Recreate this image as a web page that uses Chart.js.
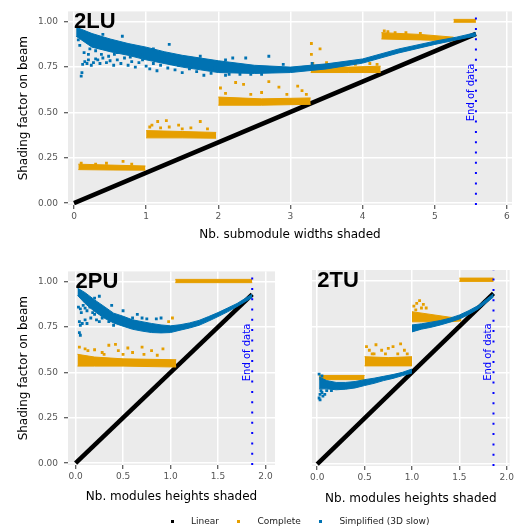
<!DOCTYPE html>
<html>
<head>
<meta charset="utf-8">
<script src="https://cdn.jsdelivr.net/npm/chart.js@4.4.0/dist/chart.umd.min.js"></script>
<style>
  html, body { margin: 0; padding: 0; background: #fff; overflow: hidden; width: 516px; height: 530px; }
  canvas { position: absolute; }
</style>
</head>
<body>
<canvas id="g2LU" width="516" height="242" style="left:0;top:0"></canvas>
<canvas id="g2PU" width="280" height="244" style="left:0;top:260px"></canvas>
<canvas id="g2TU" width="439" height="276" style="left:77px;top:260px"></canvas>
<script>
// MARK: values

var panelNames = ['2LU', '2PU', '2TU'];
var seriesNames = ['Linear', 'Complete', 'Simplified (3D slow)'];
var seriesColors = ['#000000', '#E69F00', '#0072B2'];
var yTitle = 'Shading factor on beam';
var xTitles = ['Nb. submodule widths shaded', 'Nb. modules heights shaded', 'Nb. modules heights shaded'];
var endLabel = 'End of data';
var endOfData = [5.57, 1.86, 1.86];

var yTicks = [0, 0.25, 0.5, 0.75, 1];
var yTickLabels = ['0.00', '0.25', '0.50', '0.75', '1.00'];
var xTicksTop = [0, 1, 2, 3, 4, 5, 6];
var xTickLabelsTop = ['0', '1', '2', '3', '4', '5', '6'];
var xTicksBottom = [0, 0.5, 1, 1.5, 2];
var xTickLabelsBottom = ['0.0', '0.5', '1.0', '1.5', '2.0'];

// 2LU
var linear2LU = [[0, 0], [5.57, 0.933]];
// bands are [x, low, high]
var complete2LU = [
  [[0.06, 0.185, 0.215], [0.5, 0.183, 0.21], [0.99, 0.182, 0.205]],
  [[1.0, 0.36, 0.4], [1.5, 0.36, 0.395], [1.97, 0.358, 0.39]],
  [[2.0, 0.54, 0.585], [2.6, 0.54, 0.575], [3.28, 0.545, 0.58]],
  [[3.28, 0.72, 0.76], [3.8, 0.72, 0.75], [4.25, 0.72, 0.755]],
  [[4.26, 0.905, 0.94], [4.8, 0.9, 0.93], [5.26, 0.895, 0.915]],
  [[5.26, 0.997, 1.013], [5.57, 0.997, 1.013]]
];
var completePts2LU = [
  [0.1, 0.22], [0.3, 0.215], [0.45, 0.22], [0.68, 0.23], [0.8, 0.215],
  [1.05, 0.42], [1.08, 0.43], [1.16, 0.45], [1.2, 0.415], [1.28, 0.455], [1.32, 0.42], [1.45, 0.43],
  [1.5, 0.41], [1.62, 0.415], [1.75, 0.45], [1.85, 0.41],
  [2.03, 0.635], [2.1, 0.605], [2.24, 0.665], [2.35, 0.655], [2.45, 0.6], [2.6, 0.61], [2.7, 0.67],
  [2.84, 0.64], [2.95, 0.6], [3.1, 0.645], [3.16, 0.62], [3.22, 0.6],
  [3.29, 0.88], [3.29, 0.82], [3.41, 0.85], [3.31, 0.77], [3.5, 0.775], [3.7, 0.77], [3.9, 0.765],
  [4.1, 0.77], [4.2, 0.765],
  [4.3, 0.95], [4.35, 0.945], [4.45, 0.94], [4.6, 0.94], [4.8, 0.935]
];
var simplified2LU = [
  [[0.03, 0.92, 0.97], [0.25, 0.86, 0.935], [0.5, 0.835, 0.905], [0.75, 0.815, 0.88], [1.0, 0.79, 0.86],
   [1.25, 0.77, 0.835], [1.5, 0.75, 0.815], [1.75, 0.735, 0.8], [2.0, 0.72, 0.785], [2.5, 0.715, 0.76],
   [3.0, 0.72, 0.75], [3.5, 0.74, 0.768], [4.0, 0.772, 0.795], [4.5, 0.828, 0.85], [5.0, 0.875, 0.893],
   [5.3, 0.9, 0.915], [5.57, 0.922, 0.94]]
];
var simplifiedPts2LU = [
  [0.1, 0.7], [0.11, 0.72], [0.12, 0.765], [0.15, 0.78], [0.18, 0.77], [0.2, 0.79], [0.24, 0.76],
  [0.27, 0.775], [0.3, 0.795], [0.33, 0.79], [0.36, 0.77], [0.4, 0.8], [0.45, 0.775], [0.5, 0.785],
  [0.55, 0.76], [0.6, 0.79], [0.65, 0.77], [0.7, 0.8], [0.75, 0.76], [0.8, 0.78], [0.85, 0.75],
  [0.9, 0.775], [0.95, 0.79], [1.0, 0.755], [1.05, 0.74], [1.1, 0.77], [1.15, 0.73], [1.2, 0.76],
  [1.3, 0.745], [1.4, 0.735], [1.5, 0.72], [1.6, 0.74], [1.7, 0.725], [1.8, 0.705], [1.9, 0.715],
  [2.1, 0.705], [2.3, 0.71],
  [0.4, 0.93], [0.67, 0.92], [1.32, 0.875], [1.1, 0.85], [0.85, 0.86], [1.75, 0.81], [2.38, 0.8],
  [2.7, 0.81], [2.2, 0.8], [2.9, 0.765], [3.3, 0.77], [0.2, 0.82], [0.6, 0.83], [0.56, 0.82],
  [0.95, 0.82], [1.25, 0.8], [0.3, 0.84],
  [0.06, 0.9], [0.08, 0.87], [0.14, 0.83], [0.22, 0.85], [0.38, 0.82], [0.48, 0.81], [0.7, 0.83],
  [0.78, 0.805], [1.02, 0.8], [1.18, 0.79], [1.35, 0.77], [1.45, 0.76], [1.55, 0.76], [1.65, 0.77],
  [1.85, 0.74], [1.95, 0.745], [2.05, 0.73], [2.15, 0.71], [2.45, 0.71], [2.6, 0.71], [2.1, 0.79]
];

// 2PU
var linear2PU = [[0, 0], [1.86, 0.93]];
var complete2PU = [
  [[0.02, 0.535, 0.6], [0.2, 0.535, 0.585], [0.5, 0.535, 0.575], [1.06, 0.53, 0.57]],
  [[1.05, 0.995, 1.013], [1.86, 0.995, 1.013]]
];
var completePts2PU = [
  [0.04, 0.64], [0.1, 0.63], [0.13, 0.62], [0.2, 0.625], [0.28, 0.61], [0.35, 0.65], [0.42, 0.655],
  [0.45, 0.62], [0.55, 0.635], [0.6, 0.61], [0.7, 0.64], [0.72, 0.6], [0.8, 0.62], [0.86, 0.595],
  [0.92, 0.63], [0.98, 0.78], [1.02, 0.8], [0.3, 0.6], [0.5, 0.6]
];
var simplified2PU = [
  [[0.02, 0.925, 0.965], [0.1, 0.88, 0.94], [0.2, 0.836, 0.9], [0.3, 0.8, 0.864], [0.4, 0.773, 0.827],
   [0.5, 0.755, 0.81], [0.6, 0.738, 0.79], [0.7, 0.728, 0.78], [0.8, 0.72, 0.77], [0.9, 0.718, 0.762],
   [1.0, 0.72, 0.757], [1.1, 0.733, 0.763], [1.2, 0.745, 0.773], [1.3, 0.76, 0.787], [1.4, 0.783, 0.808],
   [1.5, 0.808, 0.83], [1.6, 0.834, 0.855], [1.7, 0.863, 0.88], [1.86, 0.913, 0.932]]
];
var simplifiedPts2PU = [
  [0.03, 0.86], [0.05, 0.85], [0.06, 0.83], [0.08, 0.87], [0.1, 0.855], [0.12, 0.84], [0.15, 0.86],
  [0.18, 0.83], [0.2, 0.82], [0.04, 0.78], [0.05, 0.76], [0.07, 0.77], [0.1, 0.79], [0.12, 0.77],
  [0.16, 0.8], [0.22, 0.79], [0.25, 0.78], [0.28, 0.8], [0.04, 0.72], [0.05, 0.705], [0.2, 0.91],
  [0.25, 0.92], [0.35, 0.78], [0.4, 0.76], [0.45, 0.8], [0.55, 0.78], [0.6, 0.8], [0.7, 0.8],
  [0.75, 0.795], [0.85, 0.795], [0.9, 0.8], [0.38, 0.87], [0.5, 0.84], [0.65, 0.82]
];

// 2TU
var linear2TU = [[0, 0], [1.86, 0.93]];
var complete2TU = [
  [[0.02, 0.46, 0.483], [0.5, 0.46, 0.483]],
  [[0.5, 0.535, 0.585], [0.75, 0.535, 0.58], [1.0, 0.535, 0.585]],
  [[1.0, 0.775, 0.83], [1.2, 0.775, 0.815], [1.4, 0.775, 0.8], [1.52, 0.78, 0.795]],
  [[1.5, 0.995, 1.013], [1.86, 0.995, 1.013]]
];
var completePts2TU = [
  [0.52, 0.64], [0.55, 0.62], [0.6, 0.6], [0.62, 0.65], [0.68, 0.62], [0.72, 0.6], [0.75, 0.63],
  [0.8, 0.64], [0.85, 0.6], [0.88, 0.655], [0.92, 0.62], [0.95, 0.6], [0.58, 0.6],
  [1.02, 0.86], [1.05, 0.875], [1.08, 0.89], [1.1, 0.85], [1.12, 0.87], [1.15, 0.85], [1.04, 0.84]
];
var simplified2TU = [
  [[0.02, 0.41, 0.475], [0.1, 0.41, 0.455], [0.2, 0.405, 0.445], [0.3, 0.408, 0.445], [0.4, 0.415, 0.45],
   [0.5, 0.428, 0.46], [0.6, 0.44, 0.468], [0.7, 0.455, 0.478], [0.8, 0.467, 0.488], [0.9, 0.482, 0.5],
   [1.0, 0.496, 0.518]],
  [[1.0, 0.72, 0.758], [1.1, 0.735, 0.764], [1.2, 0.745, 0.773], [1.3, 0.758, 0.782], [1.4, 0.773, 0.795],
   [1.5, 0.79, 0.812], [1.6, 0.815, 0.836], [1.7, 0.845, 0.864], [1.86, 0.91, 0.928]]
];
var simplifiedPts2TU = [
  [0.02, 0.36], [0.03, 0.38], [0.04, 0.4], [0.03, 0.35], [0.05, 0.39], [0.08, 0.38], [0.1, 0.4],
  [0.06, 0.37], [0.15, 0.4], [0.12, 0.42], [0.02, 0.49], [0.05, 0.48], [0.25, 0.42]
];

// MARK: helpers

Chart.defaults.font.family = '"DejaVu Sans", sans-serif';

function xy(p) { return { x: p[0], y: p[1] }; }

function bandSets(bands, color, order) {
  var out = [];
  bands.forEach(function (b) {
    out.push({ data: b.map(function (p) { return { x: p[0], y: p[1] }; }), showLine: true,
      borderColor: color, borderWidth: 1, pointRadius: 0, fill: false, order: order });
    out.push({ data: b.map(function (p) { return { x: p[0], y: p[2] }; }), showLine: true,
      borderColor: color, borderWidth: 1, pointRadius: 0, fill: '-1', backgroundColor: color, order: order });
  });
  return out;
}

function pointSet(pts, color, order) {
  return { data: pts.map(xy), showLine: false, pointStyle: 'rect', pointRadius: 2,
    pointBorderWidth: 0, backgroundColor: color, borderColor: color, order: order };
}

function keyMark(color) {
  var c = document.createElement('canvas');
  c.width = 3; c.height = 3;
  var g = c.getContext('2d');
  g.fillStyle = color; g.fillRect(0, 0, 3, 3);
  return c;
}

// gray panel like ggplot
var panelBg = {
  id: 'panelBg',
  beforeDraw: function (chart) {
    var a = chart.chartArea, ctx = chart.ctx;
    ctx.save();
    ctx.fillStyle = '#EBEBEB';
    ctx.fillRect(a.left, a.top, a.right - a.left, a.bottom - a.top);
    ctx.restore();
  }
};

var notes = {
  id: 'notes',
  afterDatasetsDraw: function (chart, args, o) {
    var ctx = chart.ctx, x = chart.scales.x, y = chart.scales.y;
    ctx.save();
    ctx.fillStyle = '#000';
    ctx.font = 'bold 22px "Liberation Sans"';
    ctx.textAlign = 'left';
    ctx.textBaseline = 'middle';
    ctx.fillText(o.label, x.getPixelForValue(0), y.getPixelForValue(1));
    ctx.translate(x.getPixelForValue(o.endX) - 2, y.getPixelForValue(0.61));
    ctx.rotate(-Math.PI / 2);
    ctx.font = '10px "DejaVu Sans"';
    ctx.fillStyle = '#0000FF';
    ctx.textAlign = 'center';
    ctx.textBaseline = 'alphabetic';
    ctx.fillText(endLabel, 0, 0);
    ctx.restore();
  }
};

// MARK: panels

var panels = [
  { id: 'g2LU', name: panelNames[0], xMin: -0.083, xMax: 6.07, xTicks: xTicksTop, xLabels: xTickLabelsTop,
    xTitle: xTitles[0], yw: 68, xh: 37, titlePad: 0, padRight: 1, showY: true, legend: false,
    linear: linear2LU, complete: complete2LU, completePts: completePts2LU,
    simplified: simplified2LU, simplifiedPts: simplifiedPts2LU, endX: endOfData[0] },
  { id: 'g2PU', name: panelNames[1], xMin: -0.08, xMax: 2.1, xTicks: xTicksBottom, xLabels: xTickLabelsBottom,
    xTitle: xTitles[1], yw: 68, xh: 39, titlePad: 0, padRight: 5, showY: true, legend: false,
    linear: linear2PU, complete: complete2PU, completePts: completePts2PU,
    simplified: simplified2PU, simplifiedPts: simplifiedPts2PU, endX: endOfData[1] },
  { id: 'g2TU', name: panelNames[2], xMin: -0.055, xMax: 2.03, xTicks: xTicksBottom, xLabels: xTickLabelsBottom,
    xTitle: xTitles[2], yw: 235, xh: 46, titlePad: 6, padRight: 6, showY: false, legend: true,
    linear: linear2TU, complete: complete2TU, completePts: completePts2TU,
    simplified: simplified2TU, simplifiedPts: simplifiedPts2TU, endX: endOfData[2] }
];

panels.forEach(function (p) {
  var datasets = [];
  datasets.push({ data: p.linear.map(xy), showLine: true, borderColor: seriesColors[0], borderWidth: 4.5,
    pointRadius: 0, order: 6 });
  datasets = datasets.concat(bandSets(p.complete, seriesColors[1], 5));
  datasets.push(pointSet(p.completePts, seriesColors[1], 4));
  datasets = datasets.concat(bandSets(p.simplified, seriesColors[2], 3));
  datasets.push(pointSet(p.simplifiedPts, seriesColors[2], 2));
  datasets.push({ data: [{ x: p.endX, y: -0.01 }, { x: p.endX, y: 1.057 }], showLine: true,
    borderColor: '#0000FF', borderWidth: 2, borderDash: [2, 8.3], pointRadius: 0, order: 1 });

  new Chart(document.getElementById(p.id), {
    type: 'scatter',
    data: { datasets: datasets },
    plugins: [panelBg, notes],
    options: {
      responsive: false,
      animation: false,
      devicePixelRatio: 1,
      events: [],
      layout: { padding: { top: 10, right: p.padRight, left: 0, bottom: 0 } },
      scales: {
        x: {
          type: 'linear', min: p.xMin, max: p.xMax, bounds: 'data',
          afterBuildTicks: function (s) { s.ticks = p.xTicks.map(function (v) { return { value: v }; }); },
          afterFit: function (s) { s.height = p.xh; },
          ticks: { autoSkip: false, maxRotation: 0, padding: 2, color: '#555555', font: { size: 9 },
            callback: function (v, i) { return p.xLabels[i]; } },
          grid: { color: '#FFFFFF', lineWidth: 1.5, tickColor: '#333333', tickLength: 4, tickWidth: 1 },
          border: { display: false },
          title: { display: true, text: p.xTitle, color: '#000000', font: { size: 12 },
            padding: { top: 0, bottom: p.titlePad } }
        },
        y: {
          type: 'linear', min: -0.01, max: 1.057, bounds: 'data',
          afterBuildTicks: function (s) { s.ticks = yTicks.map(function (v) { return { value: v }; }); },
          afterFit: function (s) { s.width = p.yw; },
          ticks: { display: p.showY, autoSkip: false, padding: 6, color: '#555555', font: { size: 9 },
            callback: function (v, i) { return yTickLabels[i]; } },
          grid: { color: '#FFFFFF', lineWidth: 1.5, tickColor: '#333333', tickLength: 4, tickWidth: 1,
            drawTicks: p.showY },
          border: { display: false },
          title: { display: p.showY, text: yTitle, color: '#000000', font: { size: 12 },
            padding: { top: 17, bottom: 0 } }
        }
      },
      plugins: {
        tooltip: { enabled: false },
        notes: { label: p.name, endX: p.endX },
        legend: {
          display: p.legend,
          position: 'bottom',
          labels: {
            usePointStyle: true, pointStyleWidth: 29, padding: 5, color: '#222222', font: { size: 9 },
            generateLabels: function () {
              return seriesNames.map(function (t, i) {
                return { text: t, pointStyle: keyMark(seriesColors[i]), fillStyle: seriesColors[i],
                  strokeStyle: seriesColors[i], lineWidth: 0, hidden: false, fontColor: '#222222', datasetIndex: i };
              });
            }
          }
        }
      }
    }
  });
});
</script>
</body>
</html>
